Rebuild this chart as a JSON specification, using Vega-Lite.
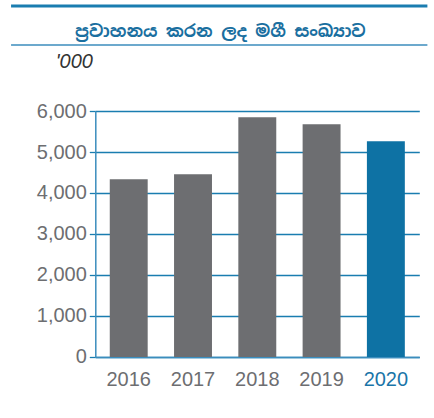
{
  "$schema": "https://vega.github.io/schema/vega-lite/v6.json",
  "padding": {"left": 9.3, "top": 4, "right": 0, "bottom": 0},
  "background": "white",
  "bounds": "flush",
  "spacing": 66,
  "config": {
    "view": {"stroke": null},
    "font": "Liberation Sans"
  },
  "vconcat": [
    {
      "width": 324,
      "height": 39,
      "data": {"values": [{}]},
      "layer": [
        {
          "mark": {"type": "rule", "color": "#1a7db0", "strokeWidth": 3, "clip": false},
          "encoding": {
            "x": {"datum": -0.26, "type": "quantitative", "scale": {"domain": [0, 1]}, "axis": null},
            "x2": {"datum": 1.025},
            "y": {"datum": 1, "type": "quantitative", "scale": {"domain": [0, 1]}, "axis": null}
          }
        },
        {
          "mark": {"type": "rule", "color": "#3b8dbd", "strokeWidth": 1.3, "clip": false},
          "encoding": {
            "x": {"datum": -0.26, "type": "quantitative", "scale": {"domain": [0, 1]}, "axis": null},
            "x2": {"datum": 1.025},
            "y": {"datum": 0, "type": "quantitative", "scale": {"domain": [0, 1]}, "axis": null}
          }
        },
        {
          "mark": {
            "type": "text",
            "text": "ප්‍රවාහනය කරන ලද මගී සංඛ්‍යාව",
            "font": "Noto Sans Sinhala, Noto Sans, Liberation Sans, sans-serif",
            "fontSize": 17,
            "fontWeight": "bold",
            "color": "#1a6fa0",
            "align": "center",
            "baseline": "middle"
          },
          "encoding": {
            "x": {"datum": 0.386, "type": "quantitative", "scale": {"domain": [0, 1]}, "axis": null},
            "y": {"datum": 0.33, "type": "quantitative", "scale": {"domain": [0, 1]}, "axis": null}
          }
        }
      ]
    },
    {
      "width": 324,
      "height": 246,
      "data": {
        "values": [
          {"year": "2016", "passengers": 4334},
          {"year": "2017", "passengers": 4456},
          {"year": "2018", "passengers": 5846},
          {"year": "2019", "passengers": 5676},
          {"year": "2020", "passengers": 5261}
        ]
      },
      "mark": {"type": "bar"},
      "encoding": {
        "x": {
          "field": "year",
          "type": "ordinal",
          "scale": {"paddingInner": 0.41, "paddingOuter": 0.225},
          "axis": {
            "title": null,
            "labelAngle": 0,
            "labelFontSize": 20,
            "labelColor": {"condition": {"test": "datum.value == '2020'", "value": "#1a75a8"}, "value": "#6d6e71"},
            "labelPadding": 13,
            "ticks": false,
            "domainColor": "#3b8dbd",
            "domainWidth": 1.5
          }
        },
        "y": {
          "field": "passengers",
          "type": "quantitative",
          "scale": {"domain": [0, 6000]},
          "axis": {
            "values": [0, 1000, 2000, 3000, 4000, 5000, 6000],
            "format": ",.0f",
            "labelFontSize": 20,
            "labelColor": "#6d6e71",
            "labelPadding": 3,
            "tickSize": 6,
            "tickColor": "#1a7db0",
            "tickWidth": 1.3,
            "domainColor": "#3b8dbd",
            "domainWidth": 1.5,
            "gridColor": "#1a7db0",
            "gridWidth": 1.3,
            "title": "'000",
            "titleAngle": 0,
            "titleAlign": "left",
            "titleBaseline": "alphabetic",
            "titleX": -40,
            "titleY": -44,
            "titleFontSize": 20,
            "titleFontStyle": "italic",
            "titleFontWeight": "normal",
            "titleColor": "#333333"
          }
        },
        "color": {
          "condition": {"test": "datum.year == '2020'", "value": "#0e72a4"},
          "value": "#6d6e71"
        }
      }
    }
  ]
}
